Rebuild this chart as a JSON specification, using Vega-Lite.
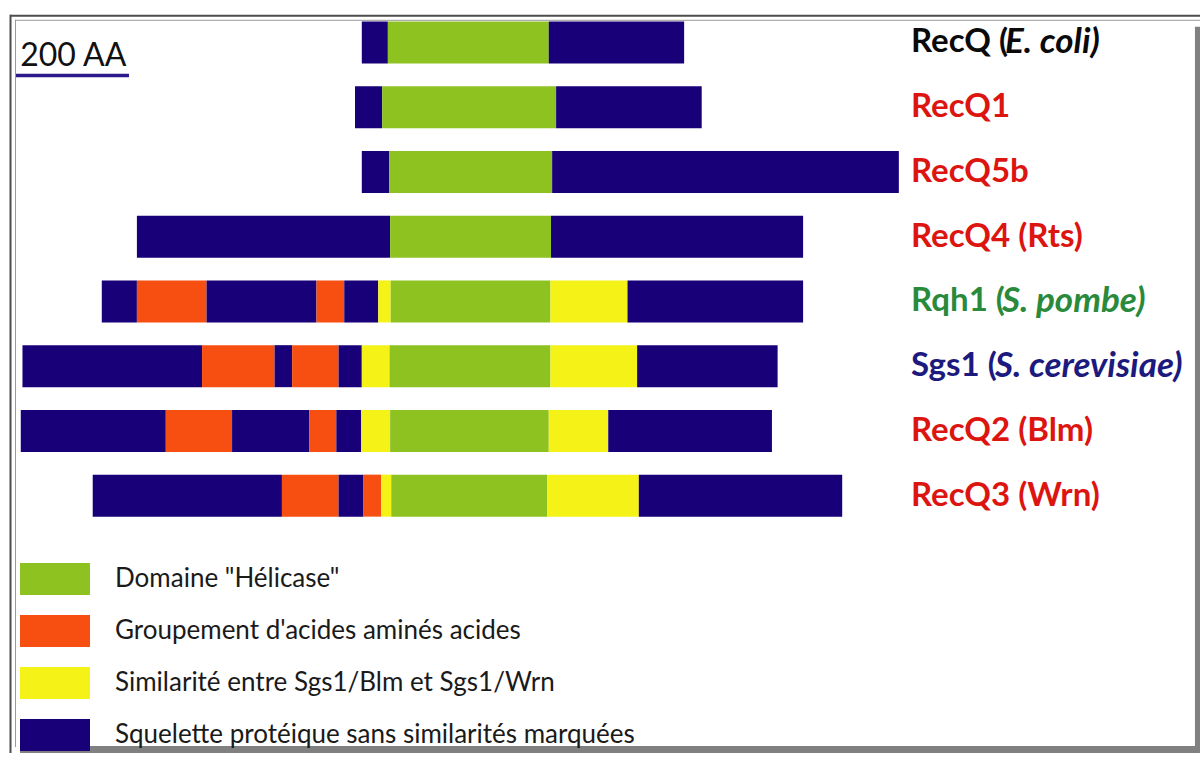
{
  "$schema": "https://vega.github.io/schema/vega-lite/v6.json",
  "width": 1200,
  "height": 758,
  "autosize": {"type": "none"},
  "padding": 0,
  "background": "white",
  "config": {"view": {"stroke": null}},
  "datasets": {
    "segments": [
      {"protein": "RecQ (E. coli)", "row": 1, "start": -48, "end": -2, "region": "Squelette protéique sans similarités marquées"},
      {"protein": "RecQ (E. coli)", "row": 1, "start": -2, "end": 282, "region": "Domaine \"Hélicase\""},
      {"protein": "RecQ (E. coli)", "row": 1, "start": 282, "end": 521, "region": "Squelette protéique sans similarités marquées"},
      {"protein": "RecQ1", "row": 2, "start": -60, "end": -12, "region": "Squelette protéique sans similarités marquées"},
      {"protein": "RecQ1", "row": 2, "start": -12, "end": 295, "region": "Domaine \"Hélicase\""},
      {"protein": "RecQ1", "row": 2, "start": 295, "end": 552, "region": "Squelette protéique sans similarités marquées"},
      {"protein": "RecQ5b", "row": 3, "start": -48, "end": 0, "region": "Squelette protéique sans similarités marquées"},
      {"protein": "RecQ5b", "row": 3, "start": 0, "end": 288, "region": "Domaine \"Hélicase\""},
      {"protein": "RecQ5b", "row": 3, "start": 288, "end": 900, "region": "Squelette protéique sans similarités marquées"},
      {"protein": "RecQ4 (Rts)", "row": 4, "start": -445, "end": 2, "region": "Squelette protéique sans similarités marquées"},
      {"protein": "RecQ4 (Rts)", "row": 4, "start": 2, "end": 286, "region": "Domaine \"Hélicase\""},
      {"protein": "RecQ4 (Rts)", "row": 4, "start": 286, "end": 731, "region": "Squelette protéique sans similarités marquées"},
      {"protein": "Rqh1 (S. pombe)", "row": 5, "start": -507, "end": -445, "region": "Squelette protéique sans similarités marquées"},
      {"protein": "Rqh1 (S. pombe)", "row": 5, "start": -445, "end": -322, "region": "Groupement d'acides aminés acides"},
      {"protein": "Rqh1 (S. pombe)", "row": 5, "start": -322, "end": -128, "region": "Squelette protéique sans similarités marquées"},
      {"protein": "Rqh1 (S. pombe)", "row": 5, "start": -128, "end": -79, "region": "Groupement d'acides aminés acides"},
      {"protein": "Rqh1 (S. pombe)", "row": 5, "start": -79, "end": -19, "region": "Squelette protéique sans similarités marquées"},
      {"protein": "Rqh1 (S. pombe)", "row": 5, "start": -19, "end": 3, "region": "Similarité entre Sgs1/Blm et Sgs1/Wrn"},
      {"protein": "Rqh1 (S. pombe)", "row": 5, "start": 3, "end": 285, "region": "Domaine \"Hélicase\""},
      {"protein": "Rqh1 (S. pombe)", "row": 5, "start": 285, "end": 421, "region": "Similarité entre Sgs1/Blm et Sgs1/Wrn"},
      {"protein": "Rqh1 (S. pombe)", "row": 5, "start": 421, "end": 731, "region": "Squelette protéique sans similarités marquées"},
      {"protein": "Sgs1 (S. cerevisiae)", "row": 6, "start": -647, "end": -330, "region": "Squelette protéique sans similarités marquées"},
      {"protein": "Sgs1 (S. cerevisiae)", "row": 6, "start": -330, "end": -202, "region": "Groupement d'acides aminés acides"},
      {"protein": "Sgs1 (S. cerevisiae)", "row": 6, "start": -202, "end": -171, "region": "Squelette protéique sans similarités marquées"},
      {"protein": "Sgs1 (S. cerevisiae)", "row": 6, "start": -171, "end": -89, "region": "Groupement d'acides aminés acides"},
      {"protein": "Sgs1 (S. cerevisiae)", "row": 6, "start": -89, "end": -48, "region": "Squelette protéique sans similarités marquées"},
      {"protein": "Sgs1 (S. cerevisiae)", "row": 6, "start": -48, "end": 1, "region": "Similarité entre Sgs1/Blm et Sgs1/Wrn"},
      {"protein": "Sgs1 (S. cerevisiae)", "row": 6, "start": 1, "end": 285, "region": "Domaine \"Hélicase\""},
      {"protein": "Sgs1 (S. cerevisiae)", "row": 6, "start": 285, "end": 438, "region": "Similarité entre Sgs1/Blm et Sgs1/Wrn"},
      {"protein": "Sgs1 (S. cerevisiae)", "row": 6, "start": 438, "end": 686, "region": "Squelette protéique sans similarités marquées"},
      {"protein": "RecQ2 (Blm)", "row": 7, "start": -650, "end": -394, "region": "Squelette protéique sans similarités marquées"},
      {"protein": "RecQ2 (Blm)", "row": 7, "start": -394, "end": -277, "region": "Groupement d'acides aminés acides"},
      {"protein": "RecQ2 (Blm)", "row": 7, "start": -277, "end": -141, "region": "Squelette protéique sans similarités marquées"},
      {"protein": "RecQ2 (Blm)", "row": 7, "start": -141, "end": -93, "region": "Groupement d'acides aminés acides"},
      {"protein": "RecQ2 (Blm)", "row": 7, "start": -93, "end": -49, "region": "Squelette protéique sans similarités marquées"},
      {"protein": "RecQ2 (Blm)", "row": 7, "start": -49, "end": 2, "region": "Similarité entre Sgs1/Blm et Sgs1/Wrn"},
      {"protein": "RecQ2 (Blm)", "row": 7, "start": 2, "end": 282, "region": "Domaine \"Hélicase\""},
      {"protein": "RecQ2 (Blm)", "row": 7, "start": 282, "end": 387, "region": "Similarité entre Sgs1/Blm et Sgs1/Wrn"},
      {"protein": "RecQ2 (Blm)", "row": 7, "start": 387, "end": 676, "region": "Squelette protéique sans similarités marquées"},
      {"protein": "RecQ3 (Wrn)", "row": 8, "start": -523, "end": -189, "region": "Squelette protéique sans similarités marquées"},
      {"protein": "RecQ3 (Wrn)", "row": 8, "start": -189, "end": -89, "region": "Groupement d'acides aminés acides"},
      {"protein": "RecQ3 (Wrn)", "row": 8, "start": -89, "end": -45, "region": "Squelette protéique sans similarités marquées"},
      {"protein": "RecQ3 (Wrn)", "row": 8, "start": -45, "end": -14, "region": "Groupement d'acides aminés acides"},
      {"protein": "RecQ3 (Wrn)", "row": 8, "start": -14, "end": 4, "region": "Similarité entre Sgs1/Blm et Sgs1/Wrn"},
      {"protein": "RecQ3 (Wrn)", "row": 8, "start": 4, "end": 279, "region": "Domaine \"Hélicase\""},
      {"protein": "RecQ3 (Wrn)", "row": 8, "start": 279, "end": 441, "region": "Similarité entre Sgs1/Blm et Sgs1/Wrn"},
      {"protein": "RecQ3 (Wrn)", "row": 8, "start": 441, "end": 800, "region": "Squelette protéique sans similarités marquées"}
    ],
    "labels": [
      {"row": 1, "prefix": "RecQ (", "species": "E. coli)", "organism": "bactérie"},
      {"row": 2, "prefix": "RecQ1", "species": "", "organism": "humain"},
      {"row": 3, "prefix": "RecQ5b", "species": "", "organism": "humain"},
      {"row": 4, "prefix": "RecQ4 (Rts)", "species": "", "organism": "humain"},
      {"row": 5, "prefix": "Rqh1 (", "species": "S. pombe)", "organism": "levure S. pombe"},
      {"row": 6, "prefix": "Sgs1 (", "species": "S. cerevisiae)", "organism": "levure S. cerevisiae"},
      {"row": 7, "prefix": "RecQ2 (Blm)", "species": "", "organism": "humain"},
      {"row": 8, "prefix": "RecQ3 (Wrn)", "species": "", "organism": "humain"}
    ],
    "one": [{}]
  },
  "layer": [
    {
      "data": {"name": "segments"},
      "mark": {"type": "bar", "size": 42, "orient": "horizontal", "opacity": 1},
      "encoding": {
        "x": {"field": "start", "type": "quantitative", "axis": null, "scale": {"domain": [-686.66, 1431.6], "nice": false, "zero": false}},
        "x2": {"field": "end"},
        "y": {"field": "row", "type": "quantitative", "axis": null, "scale": {"domain": [0.42073, 11.9756], "nice": false, "zero": false, "reverse": true}},
        "color": {
          "field": "region", "type": "nominal",
          "scale": {
            "domain": ["Domaine \"Hélicase\"", "Groupement d'acides aminés acides", "Similarité entre Sgs1/Blm et Sgs1/Wrn", "Squelette protéique sans similarités marquées"],
            "range": ["#8dc220", "#f74f12", "#f5f217", "#180078"]
          },
          "legend": {
            "orient": "none", "legendX": 37.5, "legendY": 561.5, "title": null,
            "symbolType": "M-2,-0.914L2,-0.914L2,0.914L-2,0.914Z",
            "symbolSize": 1225, "symbolStrokeWidth": 0, "symbolOpacity": 1,
            "labelFont": "Lato", "labelFontSize": 26, "labelColor": "#1a1a1a",
            "labelOffset": 42.5, "rowPadding": 18, "labelLimit": 900, "padding": 0
          }
        }
      }
    },
    {
      "data": {"name": "labels"},
      "mark": {"type": "text", "align": "left", "baseline": "middle", "font": "Lato", "fontWeight": "bold", "fontSize": 33},
      "encoding": {
        "x": {"datum": 921.4, "type": "quantitative", "scale": {"domain": [-686.66, 1431.6], "nice": false, "zero": false}},
        "y": {"field": "row", "type": "quantitative", "scale": {"domain": [0.42073, 11.9756], "nice": false, "zero": false, "reverse": true}},
        "text": {"field": "prefix"},
        "fill": {
          "field": "organism", "type": "nominal", "legend": null,
          "scale": {"domain": ["bactérie", "humain", "levure S. pombe", "levure S. cerevisiae"], "range": ["#0a0a0a", "#dc1510", "#2a8a3c", "#1c1a7e"]}
        }
      }
    },
    {
      "data": {"name": "labels"},
      "transform": [{"filter": "datum.row == 1"}],
      "mark": {"type": "text", "align": "left", "baseline": "middle", "font": "Lato", "fontWeight": "bold", "fontStyle": "italic", "fontSize": 35, "dx": 94},
      "encoding": {
        "x": {"datum": 921.4, "type": "quantitative"},
        "y": {"field": "row", "type": "quantitative"},
        "text": {"field": "species"},
        "fill": {"field": "organism", "type": "nominal", "legend": null}
      }
    },
    {
      "data": {"name": "labels"},
      "transform": [{"filter": "datum.row == 5"}],
      "mark": {"type": "text", "align": "left", "baseline": "middle", "font": "Lato", "fontWeight": "bold", "fontStyle": "italic", "fontSize": 35, "dx": 91},
      "encoding": {
        "x": {"datum": 921.4, "type": "quantitative"},
        "y": {"field": "row", "type": "quantitative"},
        "text": {"field": "species"},
        "fill": {"field": "organism", "type": "nominal", "legend": null}
      }
    },
    {
      "data": {"name": "labels"},
      "transform": [{"filter": "datum.row == 6"}],
      "mark": {"type": "text", "align": "left", "baseline": "middle", "font": "Lato", "fontWeight": "bold", "fontStyle": "italic", "fontSize": 35, "dx": 84},
      "encoding": {
        "x": {"datum": 921.4, "type": "quantitative"},
        "y": {"field": "row", "type": "quantitative"},
        "text": {"field": "species"},
        "fill": {"field": "organism", "type": "nominal", "legend": null}
      }
    },
    {
      "data": {"name": "one"},
      "mark": {"type": "rule", "color": "#2b1a8c", "strokeWidth": 3.5},
      "encoding": {
        "x": {"datum": -659, "type": "quantitative"},
        "x2": {"datum": -459},
        "y": {"datum": 1.511, "type": "quantitative"}
      }
    },
    {
      "data": {"name": "one"},
      "mark": {"type": "text", "text": "200 AA", "align": "left", "baseline": "alphabetic", "font": "Lato", "fontSize": 32, "color": "#111111"},
      "encoding": {
        "x": {"datum": -651, "type": "quantitative"},
        "y": {"datum": 1.366, "type": "quantitative"}
      }
    },
    {
      "data": {"name": "one"},
      "mark": {"type": "rule", "color": "#4d4d4d", "strokeWidth": 2},
      "encoding": {"x": {"datum": -669.0, "type": "quantitative"}, "x2": {"datum": 1431.6}, "y": {"datum": 0.5884, "type": "quantitative"}}
    },
    {
      "data": {"name": "one"},
      "mark": {"type": "rule", "color": "#9a9a9a", "strokeWidth": 1},
      "encoding": {"x": {"datum": -660.2, "type": "quantitative"}, "x2": {"datum": 1431.6}, "y": {"datum": 0.657, "type": "quantitative"}}
    },
    {
      "data": {"name": "one"},
      "mark": {"type": "rule", "color": "#4d4d4d", "strokeWidth": 2},
      "encoding": {"x": {"datum": -668.1, "type": "quantitative"}, "y": {"datum": 0.5732, "type": "quantitative"}, "y2": {"datum": 11.9756}}
    },
    {
      "data": {"name": "one"},
      "mark": {"type": "rule", "color": "#9a9a9a", "strokeWidth": 1},
      "encoding": {"x": {"datum": -659.3, "type": "quantitative"}, "y": {"datum": 0.6494, "type": "quantitative"}, "y2": {"datum": 11.884}}
    },
    {
      "data": {"name": "one"},
      "mark": {"type": "rect", "color": "#808080"},
      "encoding": {"x": {"datum": 1422.7, "type": "quantitative"}, "x2": {"datum": 1431.6}, "y": {"datum": 0.756, "type": "quantitative"}, "y2": {"datum": 11.9756}}
    },
    {
      "data": {"name": "one"},
      "mark": {"type": "rect", "color": "#808080"},
      "encoding": {"x": {"datum": -651.3, "type": "quantitative"}, "x2": {"datum": 1431.6}, "y": {"datum": 11.869, "type": "quantitative"}, "y2": {"datum": 11.9756}}
    }
  ]
}
